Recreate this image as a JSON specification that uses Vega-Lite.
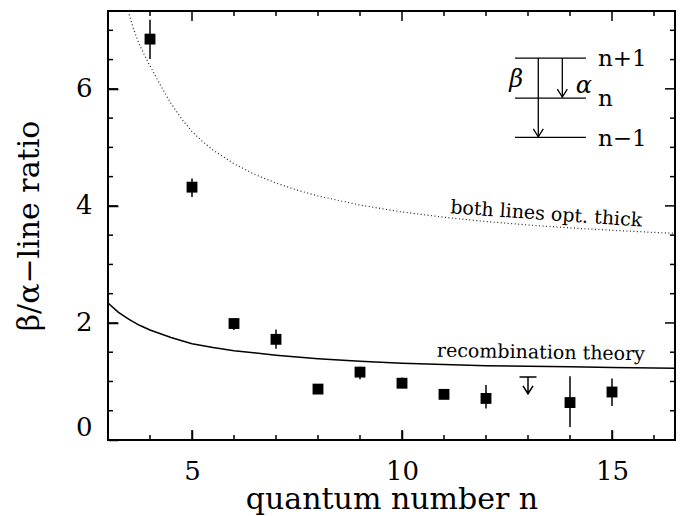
{
  "$schema": "https://vega.github.io/schema/vega-lite/v6.json",
  "width": 567,
  "height": 429,
  "autosize": {"type": "none"},
  "padding": {"left": 108, "top": 11, "right": 6, "bottom": 76},
  "background": "white",
  "config": {
    "view": {"stroke": "black", "strokeWidth": 2},
    "text": {"font": "DejaVu Serif", "color": "black"}
  },
  "datasets": {
    "thick": [
      {"n": 3.48, "r": 7.33}, {"n": 3.6, "r": 7.04}, {"n": 3.75, "r": 6.75}, {"n": 3.9, "r": 6.53},
      {"n": 4.0, "r": 6.395}, {"n": 4.25, "r": 6.06}, {"n": 4.5, "r": 5.75}, {"n": 4.75, "r": 5.49},
      {"n": 5.0, "r": 5.27}, {"n": 5.25, "r": 5.1}, {"n": 5.5, "r": 4.955}, {"n": 6.0, "r": 4.72},
      {"n": 6.5, "r": 4.536}, {"n": 7.0, "r": 4.39}, {"n": 7.5, "r": 4.27}, {"n": 8.0, "r": 4.17},
      {"n": 9.0, "r": 4.014}, {"n": 10.0, "r": 3.897}, {"n": 11.0, "r": 3.806}, {"n": 12.0, "r": 3.733},
      {"n": 13.0, "r": 3.674}, {"n": 14.0, "r": 3.624}, {"n": 15.0, "r": 3.583}, {"n": 16.0, "r": 3.547},
      {"n": 16.5, "r": 3.531}
    ],
    "recomb": [
      {"n": 3.0, "r": 2.34}, {"n": 3.25, "r": 2.18}, {"n": 3.5, "r": 2.06}, {"n": 3.75, "r": 1.96},
      {"n": 4.0, "r": 1.88}, {"n": 4.5, "r": 1.75}, {"n": 5.0, "r": 1.645}, {"n": 5.5, "r": 1.58},
      {"n": 6.0, "r": 1.525}, {"n": 7.0, "r": 1.45}, {"n": 8.0, "r": 1.39}, {"n": 9.0, "r": 1.345},
      {"n": 10.0, "r": 1.31}, {"n": 11.0, "r": 1.29}, {"n": 12.0, "r": 1.27}, {"n": 13.0, "r": 1.26},
      {"n": 14.0, "r": 1.25}, {"n": 15.0, "r": 1.24}, {"n": 16.5, "r": 1.225}
    ],
    "obs": [
      {"n": 4, "r": 6.85, "lo": 6.51, "hi": 7.18},
      {"n": 5, "r": 4.32, "lo": 4.15, "hi": 4.47},
      {"n": 6, "r": 1.99, "lo": 1.88, "hi": 2.06},
      {"n": 7, "r": 1.72, "lo": 1.56, "hi": 1.89},
      {"n": 8, "r": 0.87, "lo": 0.82, "hi": 0.92},
      {"n": 9, "r": 1.16, "lo": 1.04, "hi": 1.25},
      {"n": 10, "r": 0.97, "lo": 0.9, "hi": 1.07},
      {"n": 11, "r": 0.78, "lo": 0.73, "hi": 0.83},
      {"n": 12, "r": 0.71, "lo": 0.54, "hi": 0.94},
      {"n": 14, "r": 0.64, "lo": 0.22, "hi": 1.09},
      {"n": 15, "r": 0.82, "lo": 0.58, "hi": 1.05}
    ],
    "limit": [{"n": 13, "r": 0.79}],
    "xMajor": [{"v": 5}, {"v": 10}, {"v": 15}],
    "xMinor": [{"v": 3}, {"v": 4}, {"v": 6}, {"v": 7}, {"v": 8}, {"v": 9}, {"v": 11}, {"v": 12}, {"v": 13}, {"v": 14}, {"v": 16}],
    "yMajor": [{"v": 0}, {"v": 2}, {"v": 4}, {"v": 6}],
    "yMinor": [{"v": 0.5}, {"v": 1}, {"v": 1.5}, {"v": 2.5}, {"v": 3}, {"v": 3.5}, {"v": 4.5}, {"v": 5}, {"v": 5.5}, {"v": 6.5}, {"v": 7}],
    "levels": [
      {"x1": 12.69, "x2": 14.38, "y": 6.525, "lx": 14.667, "ly": 6.39, "label": "n+1"},
      {"x1": 12.69, "x2": 14.38, "y": 5.84, "lx": 14.667, "ly": 5.706, "label": "n"},
      {"x1": 12.69, "x2": 14.38, "y": 5.17, "lx": 14.667, "ly": 5.03, "label": "n−1"}
    ],
    "arrows": [
      {"x": 13.245, "y1": 6.525, "y2": 5.18},
      {"x": 13.817, "y1": 6.525, "y2": 5.86}
    ],
    "greek": [
      {"x": 12.72, "y": 6.03, "t": "β"},
      {"x": 14.33, "y": 5.93, "t": "α"}
    ]
  },
  "layer": [
    {
      "data": {"name": "thick"},
      "mark": {"type": "line", "color": "#222", "strokeWidth": 1.2, "strokeDash": [1, 2.5], "clip": true},
      "encoding": {
        "x": {"field": "n", "type": "quantitative",
              "scale": {"domain": [3, 16.5], "nice": false, "zero": false},
              "axis": {"orient": "bottom", "values": [5, 10, 15],
                       "tickSize": -10, "tickColor": "black", "tickWidth": 1.5,
                       "domainOpacity": 0, "gridOpacity": 0,
                       "labelFont": "DejaVu Serif", "labelColor": "black", "labelFontSize": 26, "labelPadding": 28,
                       "title": "quantum number n", "titleFont": "DejaVu Serif", "titleFontSize": 30,
                       "titleFontWeight": "normal", "titleColor": "black", "titlePadding": 0}},
        "y": {"field": "r", "type": "quantitative",
              "scale": {"domain": [0, 7.33], "nice": false, "zero": false},
              "axis": {"orient": "left", "values": [0, 2, 4, 6], "format": "d",
                       "tickSize": -10, "tickColor": "black", "tickWidth": 1.5,
                       "domainOpacity": 0, "gridOpacity": 0,
                       "labelFont": "DejaVu Serif", "labelColor": "black", "labelFontSize": 26, "labelPadding": 26,
                       "labelFlush": true,
                       "title": "β/α−line ratio", "titleFont": "DejaVu Serif", "titleFontSize": 30,
                       "titleFontWeight": "normal", "titleColor": "black", "titlePadding": 31}}
      }
    },
    {
      "data": {"name": "recomb"},
      "mark": {"type": "line", "color": "black", "strokeWidth": 1.5, "clip": true},
      "encoding": {
        "x": {"field": "n", "type": "quantitative"},
        "y": {"field": "r", "type": "quantitative"}
      }
    },
    {
      "data": {"name": "xMajor"},
      "mark": {"type": "point", "shape": "M0,0L0,-1", "filled": false, "stroke": "black", "strokeWidth": 1.5, "opacity": 1, "size": 400},
      "encoding": {"x": {"field": "v", "type": "quantitative"}, "y": {"datum": 0, "type": "quantitative"}}
    },
    {
      "data": {"name": "xMinor"},
      "mark": {"type": "point", "shape": "M0,0L0,-1", "filled": false, "stroke": "black", "strokeWidth": 1.5, "opacity": 1, "size": 100},
      "encoding": {"x": {"field": "v", "type": "quantitative"}, "y": {"datum": 0, "type": "quantitative"}}
    },
    {
      "data": {"name": "xMajor"},
      "mark": {"type": "point", "shape": "M0,0L0,1", "filled": false, "stroke": "black", "strokeWidth": 1.5, "opacity": 1, "size": 400},
      "encoding": {"x": {"field": "v", "type": "quantitative"}, "y": {"datum": 7.33, "type": "quantitative"}}
    },
    {
      "data": {"name": "xMinor"},
      "mark": {"type": "point", "shape": "M0,0L0,1", "filled": false, "stroke": "black", "strokeWidth": 1.5, "opacity": 1, "size": 100},
      "encoding": {"x": {"field": "v", "type": "quantitative"}, "y": {"datum": 7.33, "type": "quantitative"}}
    },
    {
      "data": {"name": "yMajor"},
      "mark": {"type": "point", "shape": "M0,0L1,0", "filled": false, "stroke": "black", "strokeWidth": 1.5, "opacity": 1, "size": 400},
      "encoding": {"y": {"field": "v", "type": "quantitative"}, "x": {"datum": 3, "type": "quantitative"}}
    },
    {
      "data": {"name": "yMinor"},
      "mark": {"type": "point", "shape": "M0,0L1,0", "filled": false, "stroke": "black", "strokeWidth": 1.5, "opacity": 1, "size": 100},
      "encoding": {"y": {"field": "v", "type": "quantitative"}, "x": {"datum": 3, "type": "quantitative"}}
    },
    {
      "data": {"name": "yMajor"},
      "mark": {"type": "point", "shape": "M0,0L-1,0", "filled": false, "stroke": "black", "strokeWidth": 1.5, "opacity": 1, "size": 400},
      "encoding": {"y": {"field": "v", "type": "quantitative"}, "x": {"datum": 16.5, "type": "quantitative"}}
    },
    {
      "data": {"name": "yMinor"},
      "mark": {"type": "point", "shape": "M0,0L-1,0", "filled": false, "stroke": "black", "strokeWidth": 1.5, "opacity": 1, "size": 100},
      "encoding": {"y": {"field": "v", "type": "quantitative"}, "x": {"datum": 16.5, "type": "quantitative"}}
    },
    {
      "data": {"name": "obs"},
      "mark": {"type": "rule", "color": "black", "strokeWidth": 1.5},
      "encoding": {
        "x": {"field": "n", "type": "quantitative"},
        "y": {"field": "lo", "type": "quantitative"},
        "y2": {"field": "hi"}
      }
    },
    {
      "data": {"name": "obs"},
      "mark": {"type": "point", "shape": "square", "filled": true, "color": "black", "opacity": 1, "size": 118},
      "encoding": {
        "x": {"field": "n", "type": "quantitative"},
        "y": {"field": "r", "type": "quantitative"}
      }
    },
    {
      "data": {"name": "limit"},
      "mark": {"type": "point", "shape": "M-1,-1.96L1,-1.96M0,-1.96L0,0M-0.59,-0.94L0,0L0.59,-0.94", "filled": false, "stroke": "black", "strokeWidth": 1.5, "opacity": 1, "size": 289},
      "encoding": {
        "x": {"field": "n", "type": "quantitative"},
        "y": {"field": "r", "type": "quantitative"}
      }
    },
    {
      "data": {"name": "levels"},
      "mark": {"type": "rule", "color": "black", "strokeWidth": 1.3},
      "encoding": {
        "x": {"field": "x1", "type": "quantitative"},
        "x2": {"field": "x2"},
        "y": {"field": "y", "type": "quantitative"}
      }
    },
    {
      "data": {"name": "levels"},
      "mark": {"type": "text", "align": "left", "baseline": "alphabetic", "fontSize": 23},
      "encoding": {
        "x": {"field": "lx", "type": "quantitative"},
        "y": {"field": "ly", "type": "quantitative"},
        "text": {"field": "label"}
      }
    },
    {
      "data": {"name": "arrows"},
      "mark": {"type": "rule", "color": "black", "strokeWidth": 1.3},
      "encoding": {
        "x": {"field": "x", "type": "quantitative"},
        "y": {"field": "y1", "type": "quantitative"},
        "y2": {"field": "y2"}
      }
    },
    {
      "data": {"name": "arrows"},
      "mark": {"type": "point", "shape": "M-1,-1.6L0,0L1,-1.6", "filled": false, "stroke": "black", "strokeWidth": 1.3, "opacity": 1, "size": 100},
      "encoding": {
        "x": {"field": "x", "type": "quantitative"},
        "y": {"field": "y2", "type": "quantitative"}
      }
    },
    {
      "data": {"name": "greek"},
      "mark": {"type": "text", "align": "center", "baseline": "alphabetic", "fontSize": 24, "fontStyle": "italic"},
      "encoding": {
        "x": {"field": "x", "type": "quantitative"},
        "y": {"field": "y", "type": "quantitative"},
        "text": {"field": "t"}
      }
    },
    {
      "data": {"values": [{"n": 11.14, "r": 3.875, "t": "both lines opt. thick"}]},
      "mark": {"type": "text", "align": "left", "baseline": "alphabetic", "fontSize": 19, "angle": 4},
      "encoding": {
        "x": {"field": "n", "type": "quantitative"},
        "y": {"field": "r", "type": "quantitative"},
        "text": {"field": "t"}
      }
    },
    {
      "data": {"values": [{"n": 10.83, "r": 1.424, "t": "recombination theory"}]},
      "mark": {"type": "text", "align": "left", "baseline": "alphabetic", "fontSize": 19, "angle": 1},
      "encoding": {
        "x": {"field": "n", "type": "quantitative"},
        "y": {"field": "r", "type": "quantitative"},
        "text": {"field": "t"}
      }
    }
  ]
}
